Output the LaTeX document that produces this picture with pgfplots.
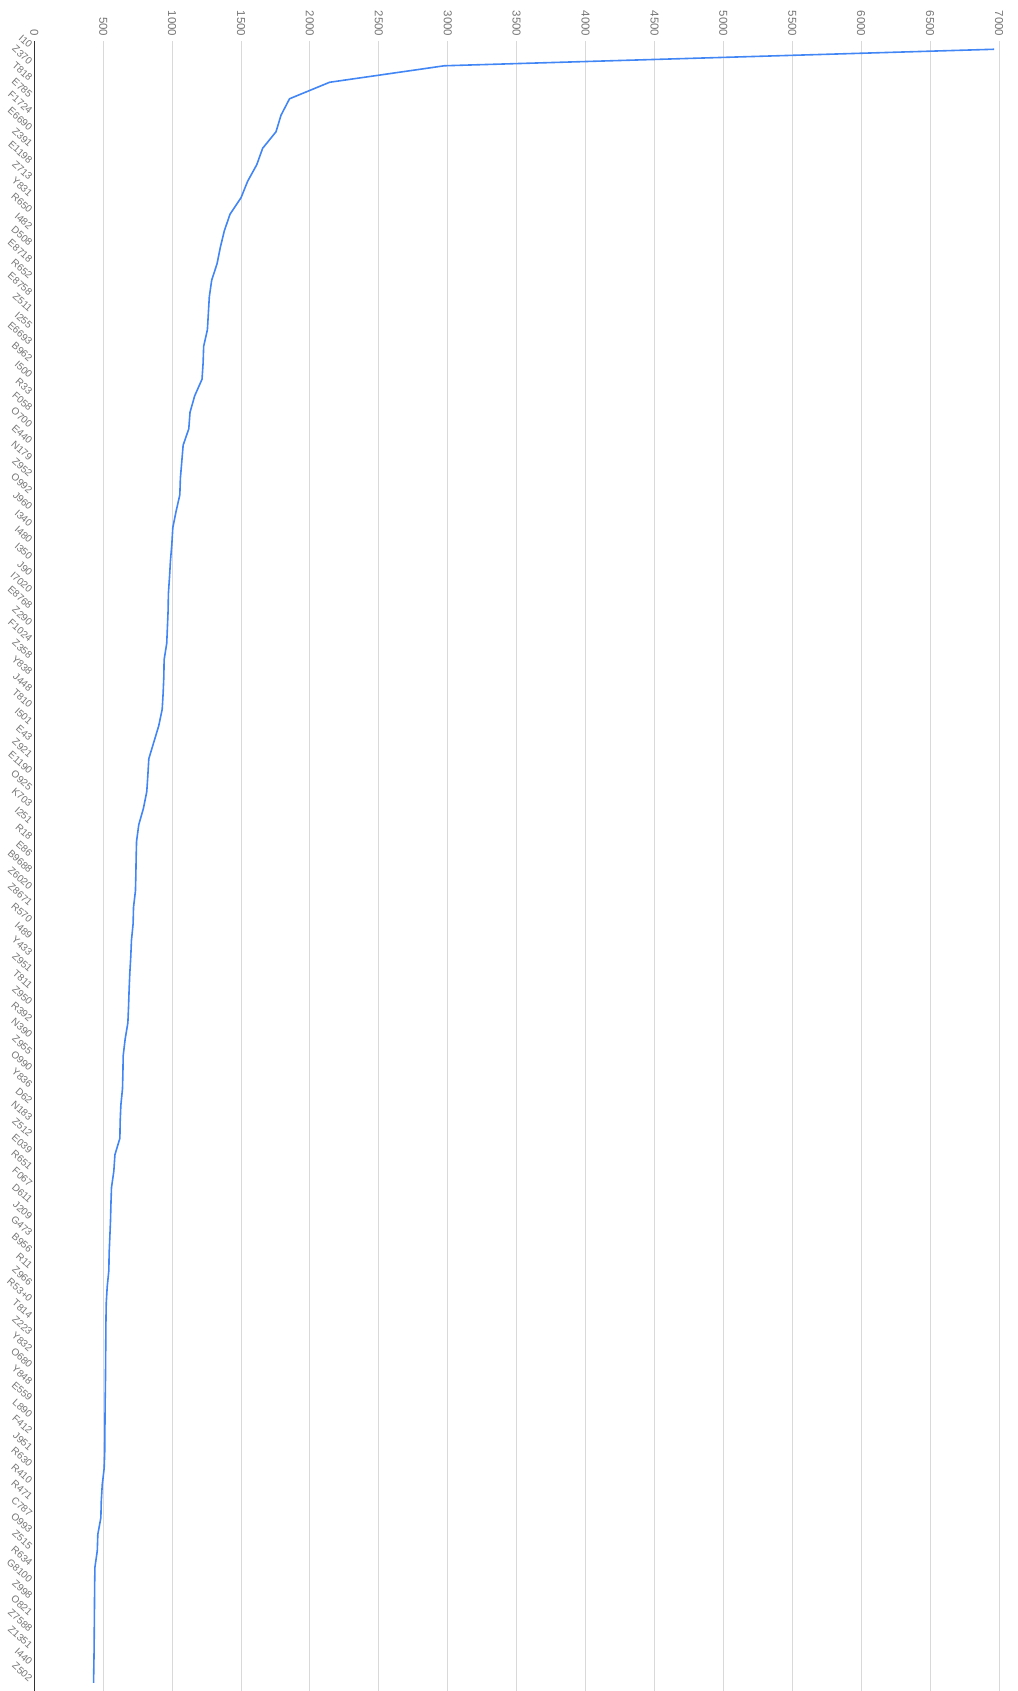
\documentclass[border=0pt]{standalone}
\usepackage{fontspec}
\setmainfont{Liberation Sans}
\usepackage{pgfplots}
\usepackage{pgfplotstable}
\pgfplotsset{compat=1.18}
\definecolor{lineblue}{HTML}{4285F4}
\definecolor{gridgray}{HTML}{D9D9D9}
\definecolor{labelgray}{HTML}{757575}
\definecolor{basegray}{HTML}{333333}
\pgfplotstableread{
idx val
1 6965
2 2976
3 2143
4 1852
5 1790
6 1754
7 1657
8 1614
9 1548
10 1500
11 1420
12 1379
13 1350
14 1326
15 1287
16 1270
17 1263
18 1256
19 1229
20 1225
21 1217
22 1164
23 1130
24 1121
25 1080
26 1070
27 1060
28 1056
29 1029
30 1005
31 998
32 988
33 981
34 973
35 971
36 966
37 961
38 942
39 940
40 935
41 928
42 903
43 867
44 831
45 824
46 816
47 792
48 758
49 742
50 739
51 737
52 734
53 720
54 717
55 705
56 700
57 693
58 688
59 684
60 679
61 659
62 645
63 643
64 640
65 628
66 623
67 621
68 585
69 577
70 560
71 556
72 553
73 548
74 543
75 541
76 529
77 522
78 520
79 519
80 518
81 517
82 516
83 514
84 513
85 512
86 511
87 507
88 493
89 486
90 483
91 461
92 457
93 440
94 438
95 437
96 436
97 435
98 434
99 432
100 430
}\datatable
\begin{document}
\begin{tikzpicture}
\useasboundingbox (-25.725pt,0pt) rectangle (737.025pt,1268.25pt);
\begin{axis}[
  at={(0pt,0pt)}, anchor=south west,
  scale only axis, width=723.525pt, height=1237.5pt,
  xmin=0, xmax=7000, ymin=0.5, ymax=100.5,
  y dir=reverse,
  clip=false,
  axis line style={draw=none},
  major tick length=0pt,
  xtick={0,500,...,7000},
  xticklabel pos=right,
  xmajorgrids=true,
  grid style={gridgray, line width=0.75pt},
  extra x ticks={0},
  extra x tick labels={},
  extra x tick style={grid style={basegray, line width=1pt}},
  /pgf/number format/1000 sep={},
  /pgf/number format/assume math mode=true,
  xticklabel style={rotate=-90, anchor=east, font=\fontsize{8.6}{10}\selectfont, text=labelgray},
  ytick={1,...,100},
  yticklabels={I10,Z370,T818,E785,F1724,E6690,Z391,E1198,Z713,Y831,R650,I482,D508,E8718,R652,E8758,Z511,I255,E6693,B962,I500,R33,F058,O700,E440,N179,Z952,O992,J960,I340,I480,I350,J90,I7020,E8768,Z290,F1024,Z358,Y838,J448,T810,I501,E43,Z921,E1190,O925,K703,I251,R18,E86,B9688,Z6020,Z8671,R570,I489,Y433,Z951,T811,Z950,R392,N390,Z955,O990,Y836,D62,N183,Z512,E039,R651,F067,D611,J209,G473,B956,R11,Z966,R53+0,T814,Z223,Y832,O680,Y848,E559,L890,F412,J951,R630,R410,R471,C787,O993,Z515,R634,G8100,Z998,O821,Z7588,Z1351,I440,Z502},
  yticklabel style={rotate=-42, anchor=east, font=\fontsize{7.5}{9}\selectfont, text=labelgray},
]
\addplot[lineblue, line width=1.2pt, mark=none] table[x=val, y=idx] {\datatable};
\end{axis}
\end{tikzpicture}
\end{document}
